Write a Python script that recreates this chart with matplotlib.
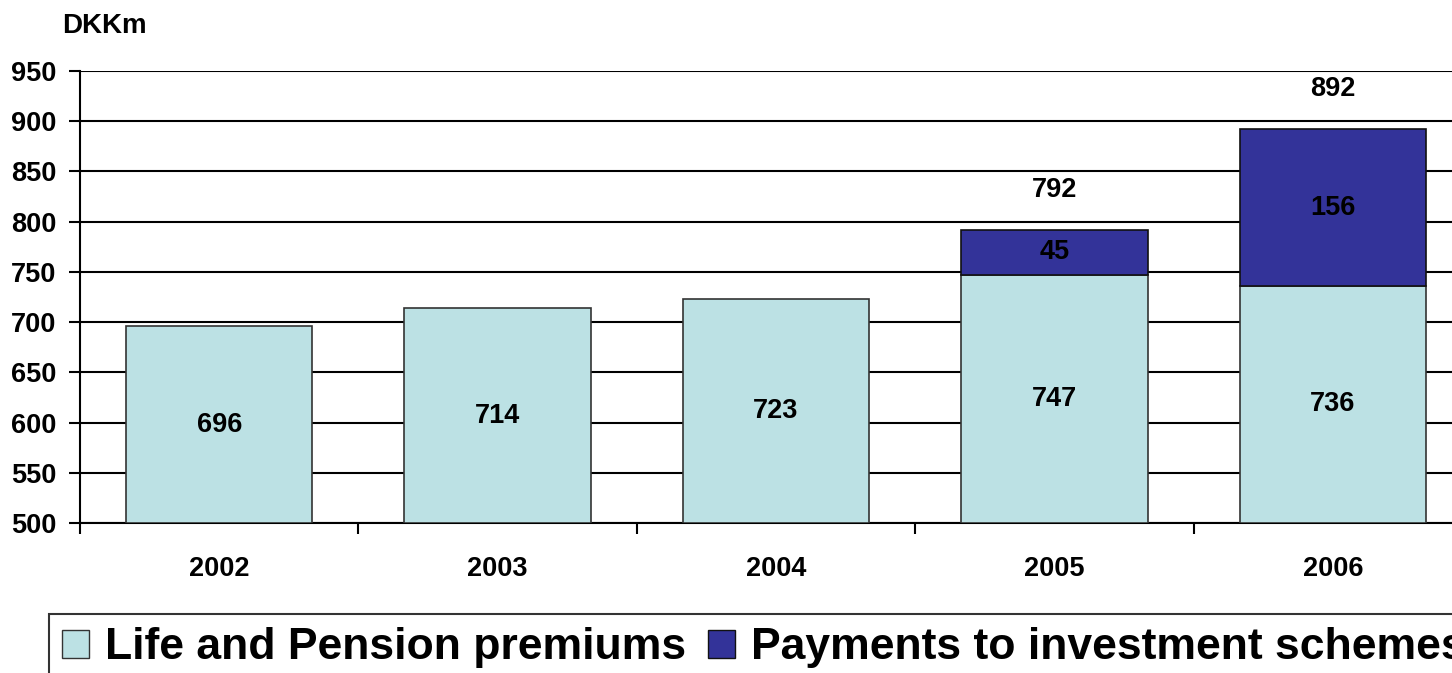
import matplotlib
matplotlib.use("Agg")
import matplotlib.pyplot as plt
from matplotlib.patches import Patch

plt.rcParams['font.family'] = ['Liberation Sans', 'DejaVu Sans']
plt.rcParams['font.weight'] = 'bold'

years = ["2002", "2003", "2004", "2005", "2006"]
life_pension = [696, 714, 723, 747, 736]
investment = [0, 0, 0, 45, 156]
totals = [None, None, None, 792, 892]

light = "#BCE1E4"
dark = "#333399"

fig = plt.figure(figsize=(14.52, 6.73), dpi=100)
ax = fig.add_axes([80 / 1452, 1 - 523 / 673, 1392 / 1452, 452 / 673])

x = list(range(len(years)))
width = 0.67
base = 500
lp_heights = [v - base for v in life_pension]
ax.bar(x, lp_heights, width, bottom=base, color=light, edgecolor="#333333",
       linewidth=1.2, zorder=3)
inv_x = [i for i in x if investment[i] > 0]
ax.bar(inv_x, [investment[i] for i in inv_x], width,
       bottom=[life_pension[i] for i in inv_x], color=dark,
       edgecolor="#111111", linewidth=1.2, zorder=3)

fs = 19.5
for i in x:
    ax.text(i, (base + life_pension[i]) / 2, str(life_pension[i]),
            ha="center", va="center", fontsize=fs, fontweight="bold", zorder=4)
    if investment[i] > 0:
        ax.text(i, life_pension[i] + investment[i] / 2, str(investment[i]),
                ha="center", va="center", fontsize=fs, fontweight="bold", zorder=4)
    if totals[i] is not None:
        ax.text(i, totals[i] + 40, str(totals[i]), ha="center", va="center",
                fontsize=fs, fontweight="bold", zorder=4)

ax.set_ylim(500, 950)
ax.set_xlim(-0.5, 4.5)
ax.set_yticks(range(500, 951, 50))
ax.tick_params(axis="y", direction="out", length=8, width=1.5, pad=9,
               labelsize=fs)
ax.set_xticks(x)
ax.set_xticklabels(years, fontsize=fs, fontweight="bold")
ax.tick_params(axis="x", length=0, pad=24)
# category boundary ticks
ax.set_xticks([i - 0.5 for i in range(len(years) + 1)], minor=True)
ax.tick_params(axis="x", which="minor", direction="out", length=8, width=1.5)
for lab in ax.get_yticklabels():
    lab.set_fontweight("bold")

ax.yaxis.grid(True, color="black", linewidth=1.5, zorder=0)
ax.set_axisbelow(True)
for s in ["top", "right"]:
    ax.spines[s].set_visible(False)
ax.spines["left"].set_linewidth(1.5)
ax.spines["bottom"].set_linewidth(1.5)

fig.text(62 / 1452, 1 - 33 / 673, "DKKm", fontsize=20, fontweight="bold",
         ha="left", va="baseline")

handles = [Patch(facecolor=light, edgecolor="#333333", label="Life and Pension premiums"),
           Patch(facecolor=dark, edgecolor="#111111", label="Payments to investment schemes")]
leg = fig.legend(handles=handles, loc="upper left",
                 bbox_to_anchor=(49 / 1452, 1 - 614 / 673), ncol=2,
                 prop={"size": 32, "weight": "bold"}, frameon=True,
                 fancybox=False, edgecolor="black", handlelength=0.6,
                 handleheight=0.6, handletextpad=0.36, columnspacing=0.5,
                 borderpad=0.3, borderaxespad=0)
leg.get_frame().set_linewidth(1.5)

fig.savefig("out.png", dpi=100)
